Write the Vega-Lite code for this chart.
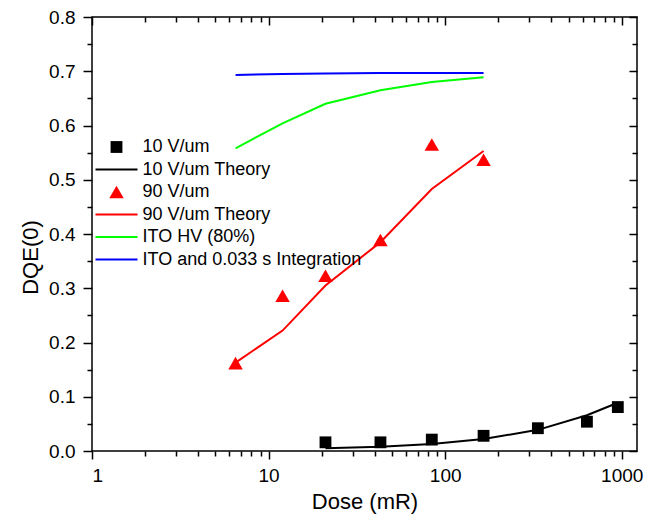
{
  "$schema": "https://vega.github.io/schema/vega-lite/v6.json",
  "width": 545,
  "height": 434,
  "autosize": {"type": "none"},
  "padding": {"left": 92, "top": 17, "right": 10, "bottom": 68},
  "background": "white",
  "config": {
    "view": {"stroke": "black", "strokeWidth": 1.5},
    "font": "Liberation Sans",
    "axis": {
      "grid": false,
      "domain": false,
      "tickColor": "black",
      "tickWidth": 1.5,
      "labelColor": "black",
      "titleColor": "black",
      "labelFont": "Liberation Sans",
      "titleFont": "Liberation Sans",
      "labelFontSize": 19,
      "titleFontSize": 22,
      "titleFontWeight": "normal"
    }
  },
  "data": {
    "values": [
      {"series": "10 V/um", "dose": 21, "dqe": 0.016},
      {"series": "10 V/um", "dose": 43, "dqe": 0.016},
      {"series": "10 V/um", "dose": 84, "dqe": 0.021},
      {"series": "10 V/um", "dose": 165, "dqe": 0.028},
      {"series": "10 V/um", "dose": 335, "dqe": 0.042},
      {"series": "10 V/um", "dose": 635, "dqe": 0.054},
      {"series": "10 V/um", "dose": 950, "dqe": 0.081},
      {"series": "10 V/um Theory", "dose": 21, "dqe": 0.005},
      {"series": "10 V/um Theory", "dose": 43, "dqe": 0.008},
      {"series": "10 V/um Theory", "dose": 84, "dqe": 0.013},
      {"series": "10 V/um Theory", "dose": 165, "dqe": 0.022},
      {"series": "10 V/um Theory", "dose": 335, "dqe": 0.039},
      {"series": "10 V/um Theory", "dose": 635, "dqe": 0.066},
      {"series": "10 V/um Theory", "dose": 950, "dqe": 0.089},
      {"series": "90 V/um", "dose": 6.5, "dqe": 0.162},
      {"series": "90 V/um", "dose": 12, "dqe": 0.286},
      {"series": "90 V/um", "dose": 21, "dqe": 0.323},
      {"series": "90 V/um", "dose": 43, "dqe": 0.389},
      {"series": "90 V/um", "dose": 84, "dqe": 0.565},
      {"series": "90 V/um", "dose": 165, "dqe": 0.537},
      {"series": "90 V/um Theory", "dose": 6.5, "dqe": 0.163},
      {"series": "90 V/um Theory", "dose": 12, "dqe": 0.222},
      {"series": "90 V/um Theory", "dose": 21, "dqe": 0.305},
      {"series": "90 V/um Theory", "dose": 43, "dqe": 0.385},
      {"series": "90 V/um Theory", "dose": 84, "dqe": 0.483},
      {"series": "90 V/um Theory", "dose": 165, "dqe": 0.553},
      {"series": "ITO HV (80%)", "dose": 6.5, "dqe": 0.558},
      {"series": "ITO HV (80%)", "dose": 12, "dqe": 0.604},
      {"series": "ITO HV (80%)", "dose": 21, "dqe": 0.64},
      {"series": "ITO HV (80%)", "dose": 43, "dqe": 0.665},
      {"series": "ITO HV (80%)", "dose": 84, "dqe": 0.68},
      {"series": "ITO HV (80%)", "dose": 165, "dqe": 0.689},
      {"series": "ITO and 0.033 s Integration", "dose": 6.5, "dqe": 0.693},
      {"series": "ITO and 0.033 s Integration", "dose": 12, "dqe": 0.695},
      {"series": "ITO and 0.033 s Integration", "dose": 21, "dqe": 0.696},
      {"series": "ITO and 0.033 s Integration", "dose": 43, "dqe": 0.697},
      {"series": "ITO and 0.033 s Integration", "dose": 84, "dqe": 0.697},
      {"series": "ITO and 0.033 s Integration", "dose": 165, "dqe": 0.697}
    ]
  },
  "resolve": {"axis": {"x": "independent", "y": "independent"}},
  "layer": [
    {
      "transform": [{"filter": "datum.series == '10 V/um' || datum.series == '90 V/um'"}],
      "mark": {"type": "point", "filled": true, "opacity": 1},
      "encoding": {
        "x": {
          "field": "dose", "type": "quantitative",
          "scale": {"type": "log", "domain": [1, 1220], "nice": false},
          "axis": {"orient": "bottom", "values": [1, 10, 100, 1000], "format": "d", "tickSize": 8, "labelPadding": 7, "title": "Dose (mR)", "titlePadding": 6}
        },
        "y": {
          "field": "dqe", "type": "quantitative",
          "scale": {"domain": [0, 0.8], "nice": false},
          "axis": {"orient": "left", "values": [0, 0.1, 0.2, 0.3, 0.4, 0.5, 0.6, 0.7, 0.8], "format": ".1f", "tickSize": 9, "labelPadding": 8, "title": "DQE(0)", "titlePadding": 6, "titleY": 240}
        },
        "color": {
          "field": "series", "type": "nominal",
          "scale": {
            "domain": ["10 V/um", "10 V/um Theory", "90 V/um", "90 V/um Theory", "ITO HV (80%)", "ITO and 0.033 s Integration"],
            "range": ["#000000", "#000000", "#FF0000", "#FF0000", "#00FF00", "#0000FF"]
          },
          "legend": {
            "orient": "none", "legendX": 15.5, "legendY": 121, "title": null, "padding": 0,
            "symbolSize": 140, "labelFontSize": 18, "labelFont": "Liberation Sans", "labelColor": "black",
            "labelOffset": 17, "rowPadding": 4.5, "labelLimit": 400,
            "encode": {
              "symbols": {
                "update": {
                  "shape": {"signal": "datum.value == '10 V/um' ? 'square' : datum.value == '90 V/um' ? 'triangle-up' : 'M-3.55,0H3.55'"},
                  "size": {"signal": "datum.value == '90 V/um' ? 210 : 140"},
                  "fill": {"scale": "color", "field": "value"},
                  "stroke": {"scale": "color", "field": "value"},
                  "strokeWidth": {"signal": "datum.value == '10 V/um' || datum.value == '90 V/um' ? 0 : 2"},
                  "opacity": {"value": 1}
                }
              }
            }
          }
        },
        "shape": {
          "field": "series", "type": "nominal",
          "scale": {"domain": ["10 V/um", "90 V/um"], "range": ["square", "triangle-up"]},
          "legend": null
        },
        "size": {
          "field": "series", "type": "nominal",
          "scale": {"domain": ["10 V/um", "90 V/um"], "range": [140, 210]},
          "legend": null
        }
      }
    },
    {
      "transform": [{"filter": "indexof(datum.series, 'Theory') >= 0 || indexof(datum.series, 'ITO') == 0"}],
      "mark": {"type": "line", "strokeWidth": 2},
      "encoding": {
        "x": {
          "field": "dose", "type": "quantitative",
          "axis": {"orient": "bottom", "values": [2, 3, 4, 5, 6, 7, 8, 9, 20, 30, 40, 50, 60, 70, 80, 90, 200, 300, 400, 500, 600, 700, 800, 900], "tickSize": 5, "labels": false, "title": null}
        },
        "y": {
          "field": "dqe", "type": "quantitative",
          "axis": {"orient": "left", "values": [0.05, 0.15, 0.25, 0.35, 0.45, 0.55, 0.65, 0.75], "tickSize": 5, "labels": false, "title": null}
        },
        "color": {
          "field": "series", "type": "nominal",
          "legend": {
            "orient": "none", "legendX": 15.5, "legendY": 121, "title": null, "padding": 0,
            "symbolSize": 140, "labelFontSize": 18, "labelFont": "Liberation Sans", "labelColor": "black",
            "labelOffset": 17, "rowPadding": 4.5, "labelLimit": 400,
            "encode": {
              "symbols": {
                "update": {
                  "shape": {"signal": "datum.value == '10 V/um' ? 'square' : datum.value == '90 V/um' ? 'triangle-up' : 'M-3.55,0H3.55'"},
                  "size": {"signal": "datum.value == '90 V/um' ? 210 : 140"},
                  "fill": {"scale": "color", "field": "value"},
                  "stroke": {"scale": "color", "field": "value"},
                  "strokeWidth": {"signal": "datum.value == '10 V/um' || datum.value == '90 V/um' ? 0 : 2"},
                  "opacity": {"value": 1}
                }
              }
            }
          }
        }
      }
    },
    {
      "mark": {"type": "point", "opacity": 0},
      "encoding": {
        "x": {
          "field": "dose", "type": "quantitative",
          "axis": {"orient": "top", "values": [1, 10, 100, 1000], "tickSize": 8, "offset": -8, "labels": false, "title": null}
        },
        "y": {
          "field": "dqe", "type": "quantitative",
          "axis": {"orient": "right", "values": [0, 0.1, 0.2, 0.3, 0.4, 0.5, 0.6, 0.7, 0.8], "tickSize": 8, "offset": -8, "labels": false, "title": null}
        }
      }
    },
    {
      "mark": {"type": "point", "opacity": 0},
      "encoding": {
        "x": {
          "field": "dose", "type": "quantitative",
          "axis": {"orient": "top", "values": [2, 3, 4, 5, 6, 7, 8, 9, 20, 30, 40, 50, 60, 70, 80, 90, 200, 300, 400, 500, 600, 700, 800, 900], "tickSize": 5, "offset": -5, "labels": false, "title": null}
        },
        "y": {
          "field": "dqe", "type": "quantitative",
          "axis": {"orient": "right", "values": [0.05, 0.15, 0.25, 0.35, 0.45, 0.55, 0.65, 0.75], "tickSize": 5, "offset": -5, "labels": false, "title": null}
        }
      }
    }
  ]
}
